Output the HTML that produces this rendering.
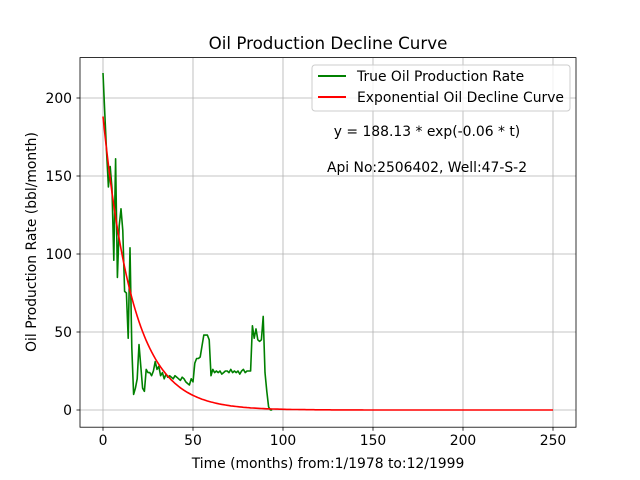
<!DOCTYPE html>
<html><head><meta charset="utf-8"><style>
body{margin:0;background:#fff}
svg{display:block;font-family:"DejaVu Sans","Liberation Sans",sans-serif}
</style></head><body>
<svg id="chart" width="640" height="480" viewBox="0 0 640 480">
<rect width="640" height="480" fill="#fff"/>
<g id="grid"></g>
<g id="plot"></g>
<rect x="80" y="57.6" width="496" height="369.6" fill="none" stroke="#000" stroke-width="0.8"/>
<g id="ticks"></g>
<text x="328" y="49" text-anchor="middle" font-size="16.7">Oil Production Decline Curve</text>
<text x="328" y="468" text-anchor="middle" font-size="13.9">Time (months) from:1/1978 to:12/1999</text>
<text transform="translate(36,242) rotate(-90)" text-anchor="middle" font-size="13.9">Oil Production Rate (bbl/month)</text>
<g>
<rect x="312" y="65" width="258" height="46" rx="3" fill="#fff" fill-opacity="0.8" stroke="#ccc"/>
<line x1="318" y1="76" x2="346" y2="76" stroke="green" stroke-width="2"/>
<text x="357" y="81" font-size="13.9">True Oil Production Rate</text>
<line x1="318" y1="97" x2="346" y2="97" stroke="red" stroke-width="2"/>
<text x="357" y="102" font-size="13.9">Exponential Oil Decline Curve</text>
</g>
<text x="427" y="136" text-anchor="middle" font-size="13.9">y = 188.13 * exp(-0.06 * t)</text>
<text x="427" y="172" text-anchor="middle" font-size="13.9">Api No:2506402, Well:47-S-2</text>
</svg>
<script>
const xTicks=[0,50,100,150,200,250];
const yTicks=[0,50,100,150,200];
const fitA=188.13;
const fitB=0.06;
const fitMaxT=250;
const trueRates=[216,190,165,143,156,142,96,161,85,118,129,115,76,75,46,104,40,10,14,20,42,28,14,12,26,24,24,22,25,31,26,28,22,24,20,23,21,22,21,20,22,21,20,19,21,20,18,17,16,20,18,30,33,33,34,41,48,48,48,45,22,26,24,25,24,25,23,24,25,25,24,26,24,25,24,25,23,25,26,24,25,25,25,54,46,52,45,44,45,60,24,12,2,0,0];
const X=t=>103+t*1.8, Y=v=>410-v*1.56;
const NS='http://www.w3.org/2000/svg';
function mk(tag,attrs,parent){const e=document.createElementNS(NS,tag);for(const k in attrs)e.setAttribute(k,attrs[k]);parent.appendChild(e);return e;}
const grid=document.getElementById('grid'),ticks=document.getElementById('ticks'),plot=document.getElementById('plot');
xTicks.forEach(t=>{
 const g=mk('line',{x1:X(t),x2:X(t),y1:57.6,y2:427.2,stroke:'#b0b0b0','stroke-width':0.8},grid);
 
 
 const tk=mk('line',{x1:X(t),x2:X(t),y1:427.2,y2:430.7,stroke:'#000','stroke-width':0.8},ticks);
 
 
 const tx=mk('text',{x:X(t),y:445,'text-anchor':'middle','font-size':13.9},ticks);
 
 
 tx.textContent=t;
});
yTicks.forEach(v=>{
 const g=mk('line',{x1:80,x2:576,y1:Y(v),y2:Y(v),stroke:'#b0b0b0','stroke-width':0.8},grid);
 
 
 const tk=mk('line',{x1:76.5,x2:80,y1:Y(v),y2:Y(v),stroke:'#000','stroke-width':0.8},ticks);
 
 
 const tx=mk('text',{x:72,y:Y(v)+5,'text-anchor':'end','font-size':13.9},ticks);
 
 
 tx.textContent=v;
});
const gp=trueRates.map((v,i)=>X(i).toFixed(1)+','+Y(v).toFixed(1)).join(' ');
const gl=mk('polyline',{points:gp,fill:'none',stroke:'green','stroke-width':1.6,'stroke-linejoin':'round'},plot);


const rp=[];for(let t=0;t<=fitMaxT;t++)rp.push(X(t).toFixed(1)+','+Y(fitA*Math.exp(-fitB*t)).toFixed(1));
const rl=mk('polyline',{points:rp.join(' '),fill:'none',stroke:'red','stroke-width':1.6},plot);


</script>
</body></html>
